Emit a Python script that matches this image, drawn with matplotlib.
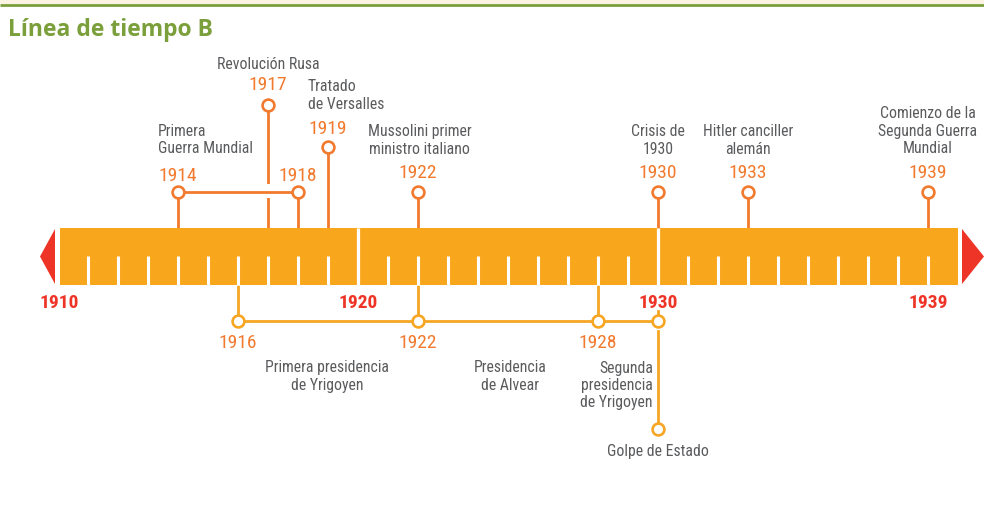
import matplotlib
matplotlib.use("Agg")
import matplotlib.pyplot as plt
from matplotlib.patches import Rectangle, Polygon

# colours
bar_col = "#F8A71D"
top_col = "#F27A2E"
low_col = "#F6A623"
red_col = "#EE3426"
txt_col = "#5A5B5D"
green = "#7A9F3B"

fam = ["Roboto Condensed", "DejaVu Sans"]

# data
start_year = 1910
end_year = 1939
major_years = [1910, 1920, 1930, 1939]

top_years = [1914, 1917, 1918, 1919, 1922, 1930, 1933, 1939]
top_texts = ["Primera\nGuerra Mundial", "Revolución Rusa", "", "Tratado\nde Versalles",
             "Mussolini primer\nministro italiano", "Crisis de\n1930",
             "Hitler canciller\nalemán", "Comienzo de la\nSegunda Guerra\nMundial"]

low_years = [1916, 1922, 1928, 1930]
low_periods = ["Primera presidencia\nde Yrigoyen", "Presidencia\nde Alvear",
               "Segunda\npresidencia\nde Yrigoyen"]
coup_year = 1930
coup_text = "Golpe de Estado"

# layout (x in years, y in pixels from top)
ppy = 30.0
x0 = start_year - 58 / ppy
x1 = start_year + (984 - 58) / ppy
bar_top, bar_bot = 229, 286

fig = plt.figure(figsize=(9.84, 5.06), dpi=100)
ax = fig.add_axes([0, 0, 1, 1])
ax.set_xlim(x0, x1)
ax.set_ylim(506, 0)
ax.axis("off")

def px(p):
    return x0 + p / ppy

# header band
ax.add_patch(Rectangle((x0, 0), x1 - x0, 4.5, color="#FCF4E2", lw=0))
ax.plot([x0, x1], [5.8, 5.8], color=green, lw=2.0, solid_capstyle="butt")
ax.text(px(8), 30, "Línea de tiempo B", color=green, fontsize=16.5,
        fontweight="bold", family=["Open Sans", "DejaVu Sans"], va="center", ha="left")

# bar
ax.add_patch(Rectangle((px(60), bar_top), px(958) - px(60), bar_bot - bar_top,
                       color=bar_col, lw=0, zorder=2))
for y in range(start_year + 1, end_year + 1):
    if y in (1920, 1930):
        ax.plot([y, y], [bar_top, bar_bot], color="white", lw=2.3, zorder=3,
                solid_capstyle="butt")
    else:
        ax.plot([y, y], [257, bar_bot], color="white", lw=2.2, zorder=3,
                solid_capstyle="butt")

# arrows
ax.add_patch(Polygon([(px(40), 257.5), (px(55), 230), (px(55), 285)], color=red_col, lw=0))
ax.add_patch(Polygon([(px(962), 230), (px(962), 285), (px(984), 257.5)], color=red_col, lw=0))

for y in major_years:
    ax.text(y + (0.05 if y == 1910 else 0), 303, str(y), color=red_col, fontsize=14,
            fontweight="bold", family=fam, ha="center", va="center")

lw = 2.0
ms = 8.5
mew = 1.9

# top events
circ_y = {1914: 193, 1917: 106, 1918: 193, 1919: 148, 1922: 193, 1930: 193, 1933: 193, 1939: 193}
for y in top_years:
    cy = circ_y[y]
    ax.plot([y, y], [cy, bar_top], color=top_col, lw=lw, zorder=1, solid_capstyle="butt")
# gap where 1917 crosses the 1914-1918 bracket
ax.plot([1917, 1917], [185, 199], color="white", lw=4, zorder=1.5, solid_capstyle="butt")
ax.plot([1914, 1918], [193, 193], color=top_col, lw=lw, zorder=1.6)
for y in top_years:
    ax.plot(y, circ_y[y], "o", ms=ms, mfc="white", mec=top_col, mew=mew, zorder=4)

year_y = {1914: 176, 1917: 85, 1918: 176, 1919: 129, 1922: 172.5, 1930: 172.5, 1933: 172.5, 1939: 172.5}
for y in top_years:
    ax.text(y, year_y[y], str(y), color=top_col, fontsize=14, family=fam,
            ha="center", va="center")

tfs = 11.3
ls = 1.2
for y, t in zip(top_years, top_texts):
    if not t:
        continue
    if y == 1914:
        ax.text(px(158), 140, t, ha="left", va="center", color=txt_col, fontsize=tfs,
                family=fam, linespacing=ls)
    elif y == 1917:
        ax.text(y, 64, t, ha="center", va="center", color=txt_col, fontsize=tfs, family=fam)
    elif y == 1919:
        ax.text(px(308), 95.5, t, ha="left", va="center", color=txt_col, fontsize=tfs,
                family=fam, linespacing=ls)
    elif y == 1939:
        ax.text(y, 131, t, ha="center", va="center", color=txt_col, fontsize=tfs,
                family=fam, linespacing=ls)
    else:
        ax.text(y + (0.05 if y == 1922 else 0), 140.5, t, ha="center", va="center",
                color=txt_col, fontsize=tfs, family=fam, linespacing=ls)

# lower events
low_y = 322
for y in low_years[:3]:
    ax.plot([y, y], [bar_bot, low_y], color=low_col, lw=lw, zorder=1, solid_capstyle="butt")
ax.plot([coup_year, coup_year], [312, low_y], color=low_col, lw=lw, zorder=1)
ax.plot([low_years[0], low_years[-1]], [low_y, low_y], color=low_col, lw=lw, zorder=1)
ax.plot([coup_year, coup_year], [332, 430], color=low_col, lw=lw, zorder=1)
for y in low_years:
    ax.plot(y, low_y, "o", ms=ms, mfc="white", mec=low_col, mew=mew, zorder=4)
ax.plot(coup_year, 430, "o", ms=ms, mfc="white", mec=low_col, mew=mew, zorder=4)

for y in low_years[:3]:
    ax.text(y, 342.5, str(y), color=top_col, fontsize=14, family=fam,
            ha="center", va="center")

ax.text(px(327), 376.5, low_periods[0], ha="center", va="center", color=txt_col,
        fontsize=tfs, family=fam, linespacing=ls)
ax.text(px(510), 376.5, low_periods[1], ha="center", va="center", color=txt_col,
        fontsize=tfs, family=fam, linespacing=ls)
ax.text(px(653), 385.5, low_periods[2], ha="right", va="center", color=txt_col,
        fontsize=tfs, family=fam, linespacing=ls)
ax.text(coup_year, 451.5, coup_text, ha="center", va="center", color=txt_col,
        fontsize=tfs, family=fam)

fig.savefig("out.png", dpi=100, facecolor="white")
